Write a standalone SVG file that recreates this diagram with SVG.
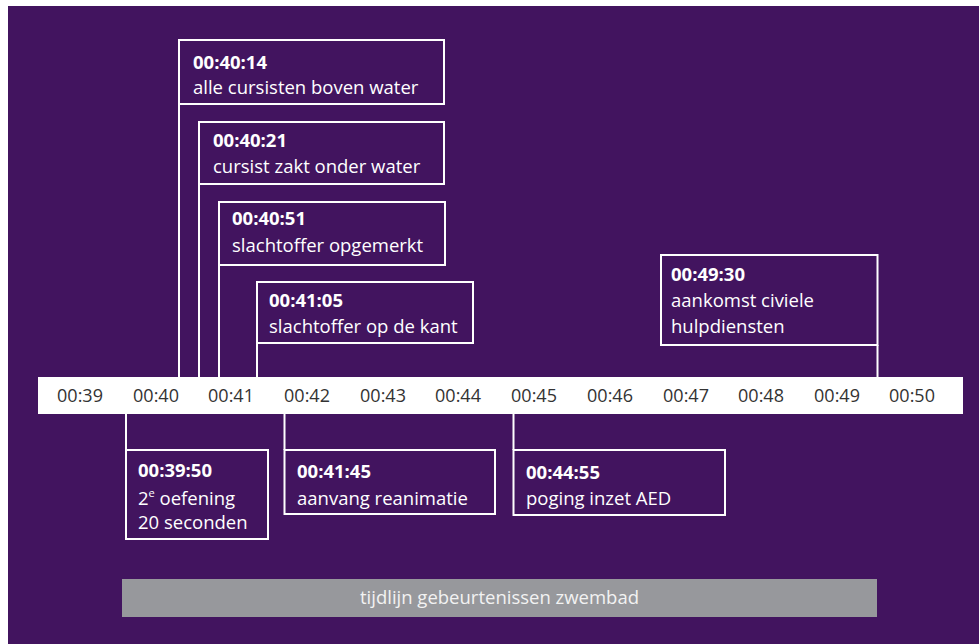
<svg xmlns="http://www.w3.org/2000/svg" width="979" height="644" viewBox="0 0 979 644">
<style>
.bg{fill:#42145f}
.box{fill:#42145f;stroke:#ffffff;stroke-width:2}
.con{fill:none;stroke:#ffffff;stroke-width:2}
.t{font-family:"Open Sans","Liberation Sans",sans-serif;font-size:18.5px;fill:#ffffff}
.b{font-weight:bold}
.tick{font-family:"Open Sans","Liberation Sans",sans-serif;font-size:18px;fill:#333333;text-anchor:middle}
.cap{font-family:"Open Sans","Liberation Sans",sans-serif;font-size:18.5px;fill:#f2f2f2;text-anchor:middle}
</style>
<rect width="979" height="644" fill="#ffffff"/>
<rect class="bg" x="8" y="6" width="971" height="638"/>
<g id="connectors">
<line class="con" x1="179" y1="104" x2="179" y2="378"/>
<line class="con" x1="199" y1="184" x2="199" y2="378"/>
<line class="con" x1="219" y1="265" x2="219" y2="378"/>
<line class="con" x1="257" y1="343" x2="257" y2="378"/>
<line class="con" x1="877.5" y1="345" x2="877.5" y2="378"/>
<line class="con" x1="126" y1="413" x2="126" y2="450"/>
<line class="con" x1="284.5" y1="413" x2="284.5" y2="450"/>
<line class="con" x1="513.5" y1="413" x2="513.5" y2="450"/>
</g>
<g id="timeline">
<rect x="38" y="377" width="925" height="37" fill="#ffffff"/>
<text class="tick" x="80" y="402">00:39</text>
<text class="tick" x="156" y="402">00:40</text>
<text class="tick" x="231" y="402">00:41</text>
<text class="tick" x="307" y="402">00:42</text>
<text class="tick" x="383" y="402">00:43</text>
<text class="tick" x="458" y="402">00:44</text>
<text class="tick" x="534" y="402">00:45</text>
<text class="tick" x="610" y="402">00:46</text>
<text class="tick" x="686" y="402">00:47</text>
<text class="tick" x="761" y="402">00:48</text>
<text class="tick" x="837" y="402">00:49</text>
<text class="tick" x="912" y="402">00:50</text>
</g>
<g id="e1">
<rect class="box" x="179" y="40" width="265" height="64"/>
<text class="t b" x="193" y="69">00:40:14</text>
<text class="t" x="193" y="94">alle cursisten boven water</text>
</g>
<g id="e2">
<rect class="box" x="199" y="122" width="245" height="62"/>
<text class="t b" x="213" y="147">00:40:21</text>
<text class="t" x="213" y="173">cursist zakt onder water</text>
</g>
<g id="e3">
<rect class="box" x="219" y="202" width="226" height="63"/>
<text class="t b" x="232" y="225">00:40:51</text>
<text class="t" x="232" y="252">slachtoffer opgemerkt</text>
</g>
<g id="e4">
<rect class="box" x="257" y="282" width="216" height="61"/>
<text class="t b" x="269" y="307">00:41:05</text>
<text class="t" x="269" y="333">slachtoffer op de kant</text>
</g>
<g id="e5">
<rect class="box" x="661" y="255" width="216.5" height="90"/>
<text class="t b" x="671" y="281">00:49:30</text>
<text class="t" x="671" y="307">aankomst civiele</text>
<text class="t" x="671" y="333">hulpdiensten</text>
</g>
<g id="e6">
<rect class="box" x="126" y="450" width="142" height="89"/>
<text class="t b" x="138" y="477">00:39:50</text>
<text class="t" x="138" y="505">2<tspan font-size="11" dy="-8">e</tspan><tspan dy="8"> oefening</tspan></text>
<text class="t" x="138" y="529">20 seconden</text>
</g>
<g id="e7">
<rect class="box" x="284.5" y="450" width="210.5" height="64"/>
<text class="t b" x="297" y="478">00:41:45</text>
<text class="t" x="297" y="505">aanvang reanimatie</text>
</g>
<g id="e8">
<rect class="box" x="513.5" y="450" width="211.5" height="65"/>
<text class="t b" x="526" y="479">00:44:55</text>
<text class="t" x="526" y="505">poging inzet AED</text>
</g>
<g id="caption">
<rect x="122" y="579" width="755" height="38" fill="#97989c"/>
<text class="cap" x="499.5" y="604">tijdlijn gebeurtenissen zwembad</text>
</g>
</svg>
